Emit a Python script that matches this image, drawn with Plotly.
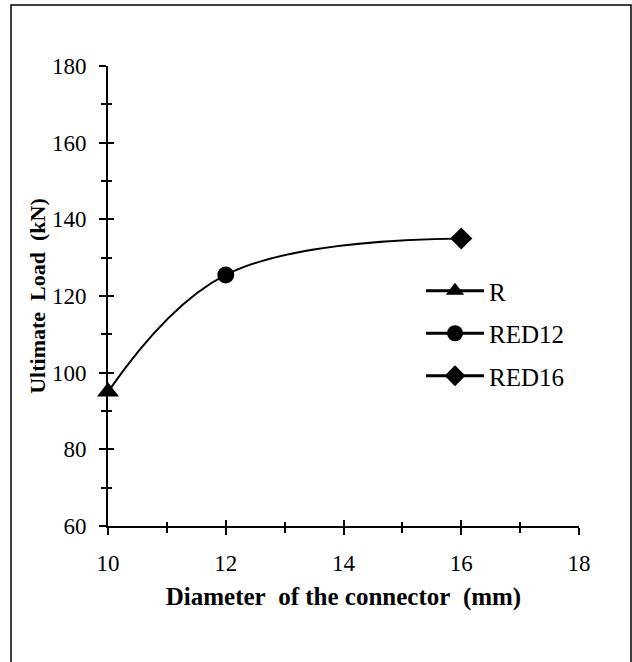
import plotly.graph_objects as go

# Data
diameters = [10, 12, 16]
loads = [95, 125.5, 135]
names = ["R", "RED12", "RED16"]
symbols = ["triangle-up", "circle", "diamond"]
sizes = [19, 17, 17]

x_ticks = [10, 12, 14, 16, 18]
y_ticks = [60, 80, 100, 120, 140, 160, 180]

FONT = "Liberation Serif"
NB = "\u00a0"

fig = go.Figure()

# smooth connecting curve
fig.add_trace(go.Scatter(
    x=diameters, y=loads, mode="lines",
    line=dict(color="black", width=2, shape="spline", smoothing=1.1),
    showlegend=False, hoverinfo="skip", cliponaxis=False,
))

for xv, yv, nm, sym, sz in zip(diameters, loads, names, symbols, sizes):
    fig.add_trace(go.Scatter(
        x=[xv], y=[yv], mode="lines+markers", name=nm,
        line=dict(color="black", width=3),
        marker=dict(symbol=sym, size=sz, color="black"),
        legendgroup=nm, cliponaxis=False,
    ))

L, R, T, B = 108, 53, 66, 136
W, H = 632, 662
pw, ph = W - L - R, H - T - B

axis_common = dict(
    showgrid=False, zeroline=False, linecolor="black", linewidth=2,
    tickcolor="black", tickwidth=2, ticklen=7, ticks="outside",
    tickfont=dict(family=FONT, size=23, color="black"),
)

xtitle = f"<b>Diameter{NB}{NB}of the connector{NB}{NB}(mm)</b>"
ytitle = f"<b>Ultimate{NB}{NB}Load{NB}{NB}(kN)</b>"

fig.update_layout(
    width=W, height=H,
    margin=dict(l=L, r=R, t=T, b=B),
    paper_bgcolor="white", plot_bgcolor="white",
    font=dict(family=FONT, color="black", size=23),
    xaxis=dict(
        range=[10, 18], tickvals=x_ticks, ticktext=[str(v) for v in x_ticks],
        showline=True,
        minor=dict(ticks="outside", dtick=1, tick0=10, ticklen=5, tickwidth=2, tickcolor="black"),
        title=dict(text=xtitle, font=dict(family=FONT, size=25, color="black"), standoff=13),
        ticklabelstandoff=8,
        **axis_common,
    ),
    yaxis=dict(
        range=[60, 180], tickvals=y_ticks, ticktext=[str(v) for v in y_ticks],
        showline=True,
        minor=dict(ticks="outside", dtick=10, tick0=60, ticklen=5, tickwidth=2, tickcolor="black"),
        title=dict(text=ytitle, font=dict(family=FONT, size=22, color="black"), standoff=0),
        ticklabelstandoff=8,
        **axis_common,
    ),
    xaxis2=dict(
        overlaying="x", anchor="y", range=[10, 18], tickvals=x_ticks,
        showticklabels=False, showline=False, showgrid=False, zeroline=False,
        ticks="inside", ticklen=6, tickwidth=2, tickcolor="black",
        minor=dict(ticks="inside", dtick=1, tick0=10, ticklen=4, tickwidth=2, tickcolor="black"),
        side="bottom",
    ),
    yaxis2=dict(
        overlaying="y", anchor="x", range=[60, 180], tickvals=y_ticks,
        showticklabels=False, showline=False, showgrid=False, zeroline=False,
        ticks="inside", ticklen=6, tickwidth=2, tickcolor="black",
        minor=dict(ticks="inside", dtick=10, tick0=60, ticklen=4, tickwidth=2, tickcolor="black"),
        side="left",
    ),
    legend=dict(
        x=(421 - L) / pw, y=(526 - 268) / ph, xanchor="left", yanchor="top",
        bgcolor="rgba(0,0,0,0)", borderwidth=0,
        font=dict(family=FONT, size=25, color="black"),
        itemwidth=58, tracegroupgap=7, traceorder="grouped",
    ),
    showlegend=True,
)

# dummy trace to activate secondary axes
fig.add_trace(go.Scatter(x=[None], y=[None], xaxis="x2", yaxis="y2", showlegend=False, hoverinfo="skip"))

# outer frame
fig.add_shape(
    type="rect", xref="paper", yref="paper",
    x0=(11 - L) / pw, x1=(631 - L) / pw,
    y0=(ph + T - 700) / ph, y1=(ph + T - 5) / ph,
    line=dict(color="black", width=1.5), fillcolor="rgba(0,0,0,0)", layer="below",
)

fig.write_html("out.html")
